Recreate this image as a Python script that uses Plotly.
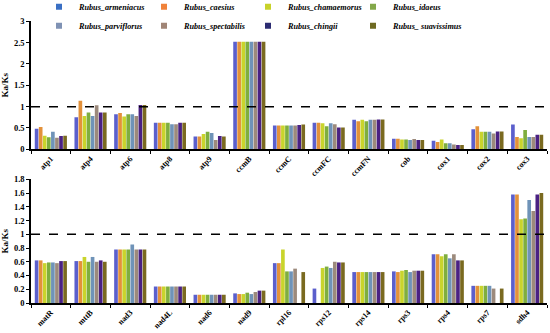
import plotly.graph_objects as go
from plotly.subplots import make_subplots

species = ["Rubus_armeniacus", "Rubus_caesius", "Rubus_chamaemorus", "Rubus_idaeus",
           "Rubus_parviflorus", "Rubus_spectabilis", "Rubus_chingii", "Rubus_ suavissimus"]
bar_colors = ["#5B5FCC", "#E3913A", "#C9D42C", "#7FAE3E", "#6F93B8", "#9C8A7C", "#4A2183", "#7A6A20"]
legend_colors = ["#3A6FC4", "#F0823A", "#C8D22A", "#83A84A", "#7F92B4", "#A08576", "#2C2C72", "#6E6A22"]

top_genes = ["atp1", "atp4", "atp6", "atp8", "atp9", "ccmB", "ccmC", "ccmFC", "ccmFN", "cob", "cox1", "cox2", "cox3"]
bottom_genes = ["matR", "mttB", "nad3", "nad4L", "nad6", "nad9", "rpl16", "rps12", "rps14", "rps3", "rps4", "rps7", "sdh4"]

armeniacus_top = [0.48, 0.75, 0.82, 0.62, 0.30, 2.52, 0.56, 0.62, 0.69, 0.25, 0.20, 0.47, 0.58]
caesius_top = [0.52, 1.14, 0.85, 0.62, 0.30, 2.52, 0.56, 0.62, 0.66, 0.25, 0.17, 0.54, 0.29]
chamaemorus_top = [0.32, 0.78, 0.77, 0.62, 0.36, 2.52, 0.56, 0.61, 0.69, 0.23, 0.23, 0.41, 0.26]
idaeus_top = [0.28, 0.86, 0.82, 0.62, 0.41, 2.52, 0.56, 0.54, 0.66, 0.23, 0.14, 0.41, 0.45]
parviflorus_top = [0.41, 0.78, 0.82, 0.59, 0.38, 2.52, 0.56, 0.61, 0.69, 0.22, 0.14, 0.41, 0.29]
spectabilis_top = [0.27, 1.03, 0.78, 0.59, 0.22, 2.52, 0.56, 0.59, 0.69, 0.24, 0.11, 0.37, 0.29]
chingii_top = [0.31, 0.86, 1.04, 0.62, 0.31, 2.52, 0.57, 0.51, 0.70, 0.22, 0.10, 0.42, 0.34]
suavissimus_top = [0.32, 0.86, 1.04, 0.62, 0.30, 2.52, 0.58, 0.51, 0.70, 0.22, 0.10, 0.42, 0.34]

armeniacus_bottom = [0.62, 0.61, 0.78, 0.24, 0.12, 0.14, 0.58, 0.21, 0.45, 0.46, 0.71, 0.25, 1.58]
caesius_bottom = [0.62, 0.61, 0.78, 0.24, 0.12, 0.13, 0.58, 0.00, 0.45, 0.45, 0.71, 0.25, 1.58]
chamaemorus_bottom = [0.58, 0.67, 0.78, 0.24, 0.12, 0.13, 0.78, 0.51, 0.45, 0.47, 0.68, 0.25, 1.22]
idaeus_bottom = [0.59, 0.60, 0.78, 0.24, 0.12, 0.15, 0.46, 0.53, 0.45, 0.48, 0.71, 0.25, 1.23]
parviflorus_bottom = [0.59, 0.67, 0.85, 0.24, 0.12, 0.13, 0.46, 0.51, 0.45, 0.45, 0.65, 0.25, 1.50]
spectabilis_bottom = [0.58, 0.60, 0.78, 0.24, 0.12, 0.16, 0.50, 0.60, 0.45, 0.47, 0.71, 0.21, 1.34]
chingii_bottom = [0.61, 0.62, 0.78, 0.24, 0.12, 0.18, 0.00, 0.59, 0.45, 0.47, 0.62, 0.00, 1.58]
suavissimus_bottom = [0.61, 0.60, 0.78, 0.24, 0.12, 0.18, 0.45, 0.59, 0.45, 0.47, 0.62, 0.21, 1.60]

top_series = [armeniacus_top, caesius_top, chamaemorus_top, idaeus_top,
              parviflorus_top, spectabilis_top, chingii_top, suavissimus_top]
bottom_series = [armeniacus_bottom, caesius_bottom, chamaemorus_bottom, idaeus_bottom,
                 parviflorus_bottom, spectabilis_bottom, chingii_bottom, suavissimus_bottom]

FONT = "Liberation Serif"
H = 333.0
W_PLOT = 516.0
L = 31

fig = make_subplots(rows=2, cols=1)

for i, name in enumerate(species):
    fig.add_trace(go.Bar(x=top_genes, y=top_series[i], name=name, marker_color=bar_colors[i],
                         marker_line_width=0, showlegend=False), row=1, col=1)
    fig.add_trace(go.Bar(x=bottom_genes, y=bottom_series[i], name=name, marker_color=bar_colors[i],
                         marker_line_width=0, showlegend=False), row=2, col=1)

# legend entries: four column legends, two rows each
legend_names = ["legend", "legend2", "legend3", "legend4"]
for i, name in enumerate(species):
    fig.add_trace(go.Scatter(x=[None], y=[None], mode="markers", name=name,
                             marker=dict(symbol="square", size=6, color=legend_colors[i]),
                             showlegend=True, legend=legend_names[i % 4]), row=1, col=1)

axis_common = dict(showline=True, linecolor="black", linewidth=1.5, showgrid=False, zeroline=False,
                   ticks="outside", ticklen=3, tickwidth=1, tickcolor="black", automargin=False)

fig.update_xaxes(**axis_common, tickangle=-45, tickson="boundaries",
                 tickfont=dict(family=FONT, size=8, color="black", weight="bold"))
fig.update_yaxes(**axis_common, tickfont=dict(family=FONT, size=8.5, color="black", weight="bold"))

fig.update_yaxes(range=[0, 3], dtick=0.5, domain=[1 - 149.3 / H, 1 - 21.3 / H], row=1, col=1)
fig.update_yaxes(range=[0, 1.8], dtick=0.2, domain=[1 - 303 / H, 1 - 179.3 / H], row=2, col=1)
fig.update_xaxes(domain=[0, 1])

fig.update_yaxes(title=dict(text="Ka/Ks", standoff=4,
                            font=dict(family=FONT, size=9, color="black", weight="bold")))

fig.add_shape(type="line", xref="x domain", yref="y", x0=0, x1=1, y0=1, y1=1,
              line=dict(color="black", width=1.5, dash="dash"))
fig.add_shape(type="line", xref="x2 domain", yref="y2", x0=0, x1=1, y0=1, y1=1,
              line=dict(color="black", width=1.5, dash="dash"))

legend_text_px = [79, 184, 288, 393]
legend_font = dict(family=FONT, size=8.2, color="black", style="italic", weight="bold")
legends = {}
for k, ln in enumerate(legend_names):
    legends[ln] = dict(orientation="v", x=(legend_text_px[k] - 40 - L) / W_PLOT, y=1.023,
                       xanchor="left", yanchor="top", itemwidth=30, tracegroupgap=0,
                       bgcolor="rgba(0,0,0,0)", font=legend_font)

fig.update_layout(
    width=550, height=333,
    margin=dict(l=L, r=3, t=0, b=0, autoexpand=False),
    paper_bgcolor="white", plot_bgcolor="white",
    barmode="group", bargap=0.18, bargroupgap=0.1,
    **legends,
)

fig.write_html("out.html", config={"displayModeBar": False},
               post_script="document.body.style.margin='0px';")
